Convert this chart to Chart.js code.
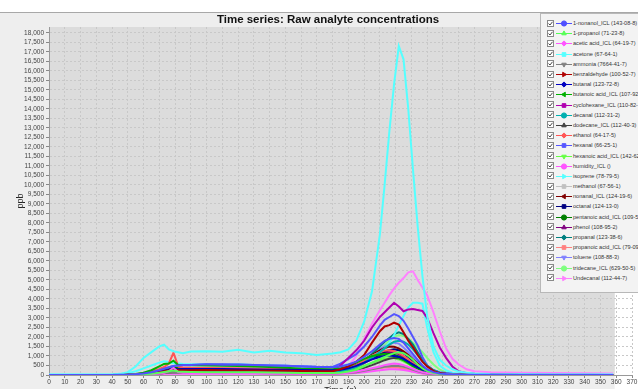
<!DOCTYPE html>
<html>
<head>
<meta charset="utf-8">
<script src="https://cdn.jsdelivr.net/npm/chart.js@4.4.0/dist/chart.umd.min.js"></script>
<style>
  html, body { margin: 0; padding: 0; background: #fff; }
  body { width: 638px; height: 389px; overflow: hidden; position: relative; font-family: "Liberation Sans", Arial, sans-serif; }
  #chart { position: absolute; left: 0; top: 0; }
  #title { position: absolute; top: 12px; left: 128px; width: 400px; text-align: center;
           font: bold 11.5px "Liberation Sans", Arial, sans-serif; line-height: 15px; color: #111; }
  #legend { position: absolute; left: 540px; top: 13px; width: 120px; height: 280px;
            background: #f3f3f3; border: 1px solid #b8b8b8; padding-top: 4px; box-sizing: border-box; }
  .row { height: 10.2px; display: flex; align-items: center; white-space: nowrap; }
  .row svg { margin-left: 6px; margin-right: 2px; }
  .row canvas { margin-right: 1px; }
  .row span { font: 5.6px "Liberation Sans", Arial, sans-serif; color: #333; }
</style>
</head>
<body>
<canvas id="chart" width="638" height="400"></canvas>
<div id="title">Time series: Raw analyte concentrations</div>
<div id="legend"></div>
<script>
// time axis (s), shared by every series
const times = [0,10,20,30,40, 45,50,55,60,65,70, 73,76,79,82,85, 90,100,110,120,130,140,150,160,170,180,
  185,190,195,200,205,210, 213,216,219,222,225,228,231,234,237,240, 244,248,252,256,260, 265,270,280,300,320,340,358];

// ppb values
const nonanol1 = [0,0,0,0,0, 10,20,40,80,150,250, 330,400,470,500,520, 530,560,540,550,520,500,480,450,420,410, 450,550,700,950,1250,1600, 1800,1900,1950,1900,1700,1400,1100,800,500,300, 150,80,50,30,20, 10,10,10,5,5,5,0];
const propanol1 = [0,0,0,0,0, 0,10,20,40,70,120, 160,200,230,180,170, 160,150,140,150,140,130,120,110,100,100, 120,180,280,450,650,850, 950,1050,1150,1200,1150,1000,800,550,350,200, 100,50,30,20,10, 10,5,5,0,0,0,0];
const aceticAcid = [0,0,0,0,0, 0,0,10,20,40,80, 120,200,380,150,120, 110,100,100,110,100,90,90,80,80,80, 90,120,180,260,350,450, 520,570,600,580,520,430,330,230,150,100, 60,40,30,20,10, 10,5,5,0,0,0,0];
const acetone = [20,30,20,20,30, 60,150,450,900,1200,1500, 1600,1350,1250,1200,1150, 1230,1250,1220,1330,1180,1270,1180,1150,1050,1130, 1200,1350,1800,2800,4400,7400, 10000,12800,15300,17300,16600,14000,10800,7800,5200,3100, 1500,800,500,300,180, 120,80,50,40,30,30,20];
const ammonia = [0,0,0,0,0, 0,10,20,30,50,80, 100,120,130,120,120, 110,110,100,100,100,90,90,90,80,80, 90,110,150,220,300,380, 430,460,480,470,430,360,280,200,130,80, 50,30,20,10,10, 5,5,0,0,0,0,0];
const benzaldehyde = [0,0,0,0,0, 10,20,30,60,100,160, 200,240,280,260,250, 250,260,250,240,240,230,220,210,200,200, 300,450,700,1050,1700,2300, 2550,2620,2750,2650,2250,1800,1450,1050,700,450, 220,100,60,40,30, 20,10,10,5,5,0,0];
const butanal = [0,0,0,0,0, 0,10,30,60,100,170, 220,260,300,300,310, 310,320,310,300,290,280,270,260,250,250, 280,350,480,650,820,950, 1000,1020,1000,950,850,700,550,400,280,180, 100,60,40,30,20, 10,10,5,5,0,0,0];
const butanoicAcid = [0,0,0,0,0, 10,20,50,120,250,450, 580,600,750,520,520, 510,500,480,470,450,420,380,340,320,300, 350,450,650,850,1000,1080, 1100,1050,1000,900,780,620,470,330,220,130, 70,40,30,20,10, 10,5,5,0,0,0,0];
const cyclohexane = [0,0,0,0,0, 0,10,20,40,70,110, 140,170,200,210,220, 230,240,240,250,240,230,230,220,220,230, 500,900,1300,1800,2500,3050, 3300,3550,3800,3600,3350,3450,3470,3420,3370,3000, 2200,1450,900,450,200, 100,60,40,20,10,10,5];
const decanal = [0,0,0,0,0, 0,10,20,40,70,110, 140,170,190,190,200, 200,210,200,200,190,190,180,170,160,160, 200,280,420,650,900,1200, 1400,1600,1750,1800,1750,1600,1350,1050,750,480, 250,120,60,40,30, 20,10,10,5,5,0,0];
const dodecane = [0,0,0,0,0, 0,10,20,30,50,80, 100,120,140,140,150, 150,150,150,140,140,140,130,130,120,120, 140,190,270,380,520,680, 780,850,900,880,800,680,540,400,270,170, 90,50,30,20,10, 10,5,5,0,0,0,0];
const ethanol = [0,0,0,0,0, 10,20,40,90,180,320, 420,600,1170,450,400, 380,370,360,350,340,330,310,300,280,270, 300,380,520,750,1000,1200, 1280,1300,1250,1150,1000,820,620,440,300,190, 100,60,40,30,20, 10,10,5,5,0,0,0];
const hexanal = [0,0,0,0,0, 10,20,40,80,150,260, 340,410,480,500,510, 520,550,560,540,520,500,480,460,430,420, 600,850,1100,1500,2000,2600, 2900,3050,3200,3100,2850,2450,2000,1550,950,500, 250,150,100,60,40, 30,20,10,10,5,5,0];
const hexanoicAcid = [0,0,0,0,0, 0,10,20,40,70,110, 140,170,190,180,180, 170,170,160,160,150,150,140,130,130,120, 150,220,330,480,640,780, 850,900,880,820,720,580,430,300,200,120, 60,30,20,10,10, 5,5,0,0,0,0,0];
const humidity = [0,0,0,0,0, 0,0,10,20,30,50, 60,70,80,70,70, 70,60,60,60,60,60,50,50,50,50, 60,80,110,150,200,250, 280,300,300,290,260,220,170,120,80,50, 30,20,10,10,5, 5,0,0,0,0,0,0];
const isoprene = [10,10,10,10,20, 40,100,200,350,500,650, 720,680,620,600,580, 570,560,540,560,520,500,480,450,420,430, 480,550,650,800,1000,1200, 1400,1700,2100,2600,3100,3550,3800,3800,3750,2500, 1200,500,250,120,80, 60,50,40,30,20,20,10];
const methanol = [0,0,0,0,0, 0,10,20,30,50,70, 90,100,110,110,110, 110,110,100,100,100,100,90,90,90,90, 100,130,180,250,330,400, 450,480,500,490,450,380,300,220,150,90, 50,30,20,10,10, 5,5,0,0,0,0,0];
const nonanal = [0,0,0,0,0, 0,10,20,50,90,150, 190,230,270,260,260, 250,250,240,240,230,220,210,200,190,190, 230,330,520,780,1050,1300, 1420,1500,1480,1400,1250,1050,820,600,400,250, 130,70,40,30,20, 10,10,5,5,0,0,0];
const octanal = [0,0,0,0,0, 0,10,20,40,80,130, 170,210,240,240,250, 250,260,250,250,240,230,220,210,200,200, 230,310,450,650,880,1100, 1220,1300,1350,1300,1150,950,750,550,380,240, 130,70,40,30,20, 10,10,5,5,0,0,0];
const pentanoicAcid = [0,0,0,0,0, 0,10,30,60,120,220, 300,340,420,360,350, 340,340,330,320,310,290,270,250,230,220, 260,350,520,720,900,1050, 1100,1100,1060,980,860,700,540,380,250,150, 80,40,30,20,10, 10,5,5,0,0,0,0];
const phenol = [0,0,0,0,0, 0,10,20,40,80,130, 160,190,220,210,210, 210,220,210,200,200,190,190,180,170,170, 200,280,420,620,850,1050, 1150,1200,1180,1100,950,780,600,430,290,180, 100,50,30,20,10, 10,5,5,0,0,0,0];
const propanal = [0,0,0,0,0, 0,10,20,40,70,110, 140,170,200,200,200, 200,200,200,190,190,180,180,170,160,160, 200,300,480,750,1100,1500, 1750,1950,2150,2250,2150,1900,1600,1200,800,500, 250,120,60,40,30, 20,10,10,5,5,0,0];
const propanoicAcid = [0,0,0,0,0, 0,10,20,30,50,70, 90,110,130,120,120, 110,110,110,100,100,100,90,90,90,90, 100,130,180,250,320,370, 390,400,400,380,330,270,200,140,90,60, 30,20,10,10,5, 5,0,0,0,0,0,0];
const toluene = [0,0,0,0,0, 0,10,20,50,100,160, 200,240,280,280,290, 290,300,290,280,270,260,250,240,230,230, 280,380,560,800,1080,1350, 1500,1620,1700,1650,1450,1200,950,680,450,280, 140,70,40,30,20, 10,10,5,5,0,0,0];
const tridecane = [0,0,0,0,0, 0,10,20,30,50,80, 100,120,140,140,150, 150,150,140,140,130,130,120,120,110,110, 140,220,380,620,950,1300, 1550,1800,2000,2100,2050,1900,1700,1450,1200,900, 550,280,130,60,30, 20,10,10,5,5,0,0];
const undecanal = [0,0,0,0,0, 0,10,20,30,50,70, 90,100,120,100,100, 90,90,90,90,90,80,80,80,80,80, 150,450,1000,1900,2700,3400, 3800,4200,4550,4850,5100,5400,5450,5000,4600,4200, 3300,2300,1400,850,550, 300,200,150,120,100,90,80];

const seriesValues = [nonanol1, propanol1, aceticAcid, acetone, ammonia, benzaldehyde, butanal, butanoicAcid,
  cyclohexane, decanal, dodecane, ethanol, hexanal, hexanoicAcid, humidity, isoprene, methanol, nonanal,
  octanal, pentanoicAcid, phenol, propanal, propanoicAcid, toluene, tridecane, undecanal];

const seriesNames = ['1-nonanol_ICL (143-08-8)', '1-propanol (71-23-8)', 'acetic acid_ICL (64-19-7)', 'acetone (67-64-1)',
  'ammonia (7664-41-7)', 'benzaldehyde (100-52-7)', 'butanal (123-72-8)', 'butanoic acid_ICL (107-92-6)',
  'cyclohexane_ICL (110-82-7)', 'decanal (112-31-2)', 'dodecane_ICL (112-40-3)', 'ethanol (64-17-5)',
  'hexanal (66-25-1)', 'hexanoic acid_ICL (142-62-1)', 'humidity_ICL ()', 'isoprene (78-79-5)',
  'methanol (67-56-1)', 'nonanal_ICL (124-19-6)', 'octanal (124-13-0)', 'pentanoic acid_ICL (109-52-4)',
  'phenol (108-95-2)', 'propanal (123-38-6)', 'propanoic acid_ICL (79-09-4)', 'toluene (108-88-3)',
  'tridecane_ICL (629-50-5)', 'Undecanal (112-44-7)'];

const seriesColors = ['#5050ff', '#55ff55', '#ff55ff', '#55ffff', '#808080', '#b00000', '#0000c0', '#00b000',
  '#b000b0', '#00b0b0', '#404040', '#ff5555', '#5555ff', '#66ff44', '#ff55ff', '#55ffff', '#c0c0c0', '#800000',
  '#000080', '#008000', '#800080', '#008080', '#ff8080', '#8080ff', '#80ff80', '#ff80ff'];

// legend marker shape and rotation
const markerStyles = ['circle', 'triangle', 'rectRot', 'rect', 'triangle', 'triangle', 'rectRot', 'triangle',
  'rect', 'circle', 'triangle', 'rectRot', 'rect', 'triangle', 'circle', 'triangle', 'rect', 'triangle',
  'rect', 'circle', 'triangle', 'rectRot', 'rect', 'triangle', 'circle', 'triangle'];
const markerTurns = [0, 0, 0, 0, 180, 90, 0, -90, 0, 0, 0, 0, 0, 180, 0, 90, 0, -90, 0, 0, 0, 0, 0, 180, 0, 90];

const yStep = 500;
const yTop = 18000;   // last labelled tick
const yMax = 18300;   // top of plot
const plotEnd = 359;  // grey plot background stops here (s)

const datasets = seriesValues.map((vals, i) => ({
  label: seriesNames[i],
  data: times.map((t, j) => ({ x: t, y: vals[j] })),
  borderColor: seriesColors[i],
  backgroundColor: seriesColors[i],
}));

const backdrop = {
  id: 'backdrop',
  beforeDraw(c) {
    const { ctx, chartArea: a, scales: { x } } = c;
    const edge = x.getPixelForValue(plotEnd);
    ctx.save();
    ctx.fillStyle = '#ffffff';
    ctx.fillRect(0, 0, c.width, c.height);
    ctx.fillStyle = '#eeeeee';
    ctx.fillRect(0, 12, edge, c.height - 12);
    ctx.fillStyle = '#dcdcdc';
    ctx.fillRect(a.left, a.top, edge - a.left, a.bottom - a.top);
    ctx.strokeStyle = '#a8a8a8';
    ctx.lineWidth = 1;
    ctx.beginPath();
    ctx.moveTo(0, 12.5);
    ctx.lineTo(c.width, 12.5);
    ctx.stroke();
    ctx.restore();
  },
};

const tickFont = { family: '"Liberation Sans", Arial, sans-serif', size: 6.5 };
const titleFont = { family: '"Liberation Sans", Arial, sans-serif', size: 9 };

new Chart(document.getElementById('chart'), {
  type: 'line',
  data: { datasets },
  plugins: [backdrop],
  options: {
    responsive: false,
    animation: false,
    layout: { padding: { top: 27, right: 6, left: 0, bottom: 0 } },
    elements: { point: { radius: 0 }, line: { borderWidth: 2, tension: 0 } },
    plugins: { legend: { display: false }, tooltip: { enabled: false } },
    scales: {
      x: {
        type: 'linear', min: 0, max: 370,
        ticks: { stepSize: 10, font: tickFont, color: '#444', padding: 0, maxRotation: 0, autoSkip: false },
        grid: { color: '#c8c8c8', tickLength: 3, tickColor: '#888' },
        border: { color: '#999', dash: [2, 2] },
        title: { display: true, text: 'Time (s)', font: titleFont, color: '#222', padding: { top: 0, bottom: 4 } },
        afterFit(s) { s.height = 25; },
      },
      y: {
        type: 'linear', min: 0, max: yMax,
        ticks: {
          font: tickFont, color: '#444', padding: 2, autoSkip: false,
          callback: (v) => v.toLocaleString('en-US'),
        },
        afterBuildTicks(s) {
          const list = [];
          for (let v = 0; v <= yTop; v += yStep) list.push({ value: v });
          s.ticks = list;
        },
        grid: { color: '#c8c8c8', tickLength: 3, tickColor: '#888' },
        border: { color: '#999', dash: [2, 2] },
        title: { display: true, text: 'ppb', font: titleFont, color: '#222', padding: { top: 15, bottom: 0 } },
        afterFit(s) { s.width = 49; },
      },
    },
  },
});

// legend drawn as html rows over the plot
const legend = document.getElementById('legend');
seriesNames.forEach((name, i) => {
  const row = document.createElement('div');
  row.className = 'row';
  row.innerHTML = '<svg width="7" height="7" viewBox="0 0 7 7"><rect x="0.5" y="0.5" width="6" height="6" fill="#fff" stroke="#8a8a8a"/>' +
    '<polyline points="1.5,3.5 3,5 5.5,1.8" fill="none" stroke="#333" stroke-width="0.9"/></svg>';
  const icon = document.createElement('canvas');
  icon.width = 16; icon.height = 8;
  const g = icon.getContext('2d');
  g.strokeStyle = seriesColors[i];
  g.fillStyle = seriesColors[i];
  g.lineWidth = 1;
  g.beginPath(); g.moveTo(0, 4.5); g.lineTo(16, 4.5); g.stroke();
  if (Chart.helpers && Chart.helpers.drawPoint) {
    Chart.helpers.drawPoint(g, { pointStyle: markerStyles[i], radius: 2.6, rotation: markerTurns[i], borderWidth: 1 }, 8, 4.5);
  } else {
    g.fillRect(6, 2.5, 4, 4);
  }
  row.appendChild(icon);
  const label = document.createElement('span');
  label.textContent = name;
  row.appendChild(label);
  legend.appendChild(row);
});
</script>
</body>
</html>
